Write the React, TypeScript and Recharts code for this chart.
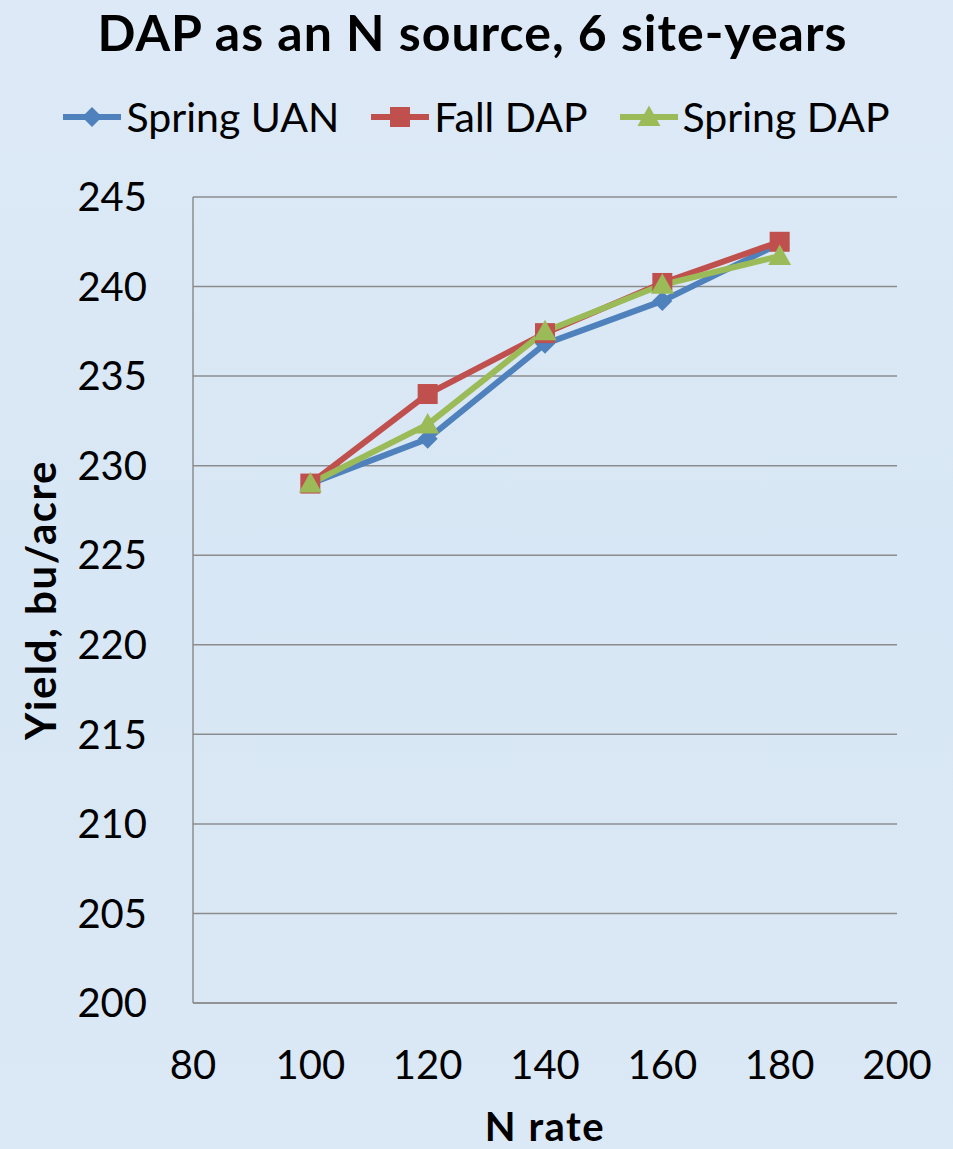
import React from 'react';
import { LineChart, Line, XAxis, YAxis, CartesianGrid, Legend, Label } from 'recharts';

const nRates = [100, 120, 140, 160, 180];
const springUAN = [229.0, 231.5, 236.8, 239.2, 242.4];
const fallDAP = [229.0, 234.0, 237.4, 240.2, 242.5];
const springDAP = [229.0, 232.3, 237.5, 240.1, 241.7];
const xTicks = [80, 100, 120, 140, 160, 180, 200];
const yTicks = [200, 205, 210, 215, 220, 225, 230, 235, 240, 245];
const seriesNames = ['Spring UAN', 'Fall DAP', 'Spring DAP'];
const seriesKeys = ['uan', 'fall', 'spring'];
const seriesColors = ['#4f81bd', '#c0504d', '#9bbb59'];
const seriesShapes = ['diamond', 'square', 'triangle'];

const data = nRates.map((n, i) => ({
  n,
  uan: springUAN[i],
  fall: fallDAP[i],
  spring: springDAP[i],
}));

const FONT = 'Lato, "Open Sans", sans-serif';
const GRID = '#8c8c8c';

function Marker({ shape, cx, cy, color, r }: { shape: string; cx: number; cy: number; color: string; r: number }) {
  if (shape === 'diamond') {
    return (
      <polygon
        points={`${cx},${cy - r} ${cx + r},${cy} ${cx},${cy + r} ${cx - r},${cy}`}
        fill={color}
      />
    );
  }
  if (shape === 'square') {
    return <rect x={cx - r} y={cy - r} width={2 * r} height={2 * r} fill={color} />;
  }
  return (
    <polygon
      points={`${cx},${cy - r * 1.15} ${cx + r * 1.15},${cy + r * 0.9} ${cx - r * 1.15},${cy + r * 0.9}`}
      fill={color}
    />
  );
}

const makeDot = (shape: string, color: string) => (props: any) => {
  const { cx, cy, index } = props;
  if (cx == null || cy == null) return <g key={index} />;
  return (
    <g key={`${shape}-${index}`}>
      <Marker shape={shape} cx={cx} cy={cy} color={color} r={10} />
    </g>
  );
};

const LegendContent = () => (
  <div
    style={{
      display: 'flex',
      justifyContent: 'center',
      alignItems: 'center',
      gap: 32,
      fontFamily: FONT,
      fontSize: 41,
      color: '#000',
      lineHeight: '50px',
    }}
  >
    {seriesNames.map((name, i) => (
      <div key={name} style={{ display: 'flex', alignItems: 'center' }}>
        <svg width={58} height={30} style={{ marginRight: 5 }}>
          <line x1={0} y1={15} x2={58} y2={15} stroke={seriesColors[i]} strokeWidth={6} strokeLinecap="round" />
          <Marker shape={seriesShapes[i]} cx={29} cy={15} color={seriesColors[i]} r={10} />
        </svg>
        <span>{name}</span>
      </div>
    ))}
  </div>
);

export default function App() {
  return (
    <div
      style={{
        position: 'absolute',
        left: 0,
        top: 0,
        width: 953,
        height: 1149,
        background: 'linear-gradient(180deg, #dde9f6 0%, #d8e7f5 50%, #dbe8f5 100%)',
        overflow: 'hidden',
      }}
    >
      <div
        style={{
          position: 'absolute',
          left: 0,
          top: 2,
          width: 945,
          textAlign: 'center',
          fontFamily: FONT,
          fontWeight: 700,
          fontSize: 50,
          letterSpacing: 1,
          lineHeight: '60px',
          color: '#000',
        }}
      >
        DAP as an N source, 6 site-years
      </div>
      <LineChart
        width={953}
        height={1149}
        data={data}
        margin={{ top: 197, right: 56, bottom: 0, left: 0 }}
      >
        <CartesianGrid horizontal={true} vertical={false} stroke={GRID} strokeWidth={1.5} />
        <XAxis
          dataKey="n"
          type="number"
          domain={[80, 200]}
          ticks={xTicks}
          height={146}
          tickSize={0}
          tickMargin={48}
          axisLine={{ stroke: GRID, strokeWidth: 1.5 }}
          tick={{ fill: '#000', fontSize: 40, fontFamily: FONT }}
          interval={0}
        >
          <Label
            content={(props: any) => {
              const vb = props.viewBox;
              return (
                <text
                  x={vb.x + vb.width / 2}
                  y={vb.y + 138}
                  textAnchor="middle"
                  fontFamily={FONT}
                  fontWeight={700}
                  fontSize={40}
                  letterSpacing={1.5}
                  fill="#000"
                >
                  N rate
                </text>
              );
            }}
          />
        </XAxis>
        <YAxis
          type="number"
          domain={[200, 245]}
          ticks={yTicks}
          width={193}
          tickSize={0}
          tickMargin={46}
          axisLine={{ stroke: GRID, strokeWidth: 1.5 }}
          tick={{ fill: '#000', fontSize: 40, fontFamily: FONT }}
          interval={0}
        >
          <Label
            content={(props: any) => {
              const vb = props.viewBox;
              const cy = vb.y + vb.height / 2;
              return (
                <text
                  x={40}
                  y={cy}
                  transform={`rotate(-90, 40, ${cy})`}
                  textAnchor="middle"
                  dominantBaseline="central"
                  fontFamily={FONT}
                  fontWeight={700}
                  fontSize={42}
                  letterSpacing={1.5}
                  fill="#000"
                >
                  Yield, bu/acre
                </text>
              );
            }}
          />
        </YAxis>
        <Legend
          layout="horizontal"
          verticalAlign="middle"
          align="center"
          content={() => <LegendContent />}
          wrapperStyle={{ position: 'absolute', top: 92, left: 0, width: 953 }}
        />
        {seriesKeys.map((k, i) => (
          <Line
            key={k}
            dataKey={k}
            name={seriesNames[i]}
            stroke={seriesColors[i]}
            strokeWidth={6}
            dot={makeDot(seriesShapes[i], seriesColors[i])}
            activeDot={false}
            isAnimationActive={false}
          />
        ))}
      </LineChart>
    </div>
  );
}
